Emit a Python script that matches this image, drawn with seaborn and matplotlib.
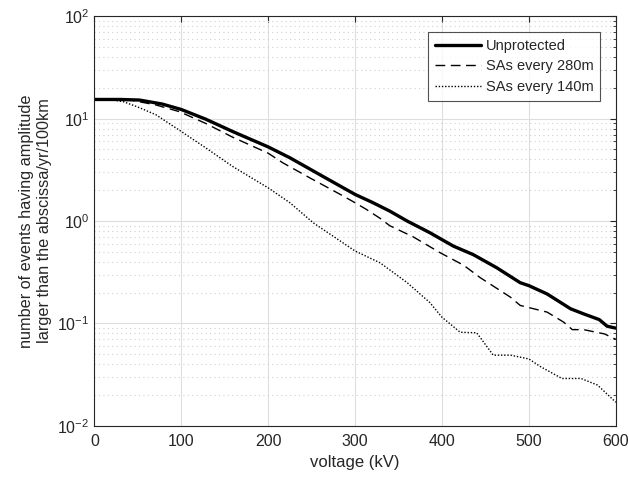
import numpy as np
import pandas as pd
import matplotlib
matplotlib.use('Agg')
import matplotlib.pyplot as plt
import matplotlib.ticker as mticker
import seaborn as sns

# data
x_unprot = [0, 30, 52, 78, 100, 128, 159, 200, 225, 263, 300, 320, 340, 360, 386,
            413, 436, 463, 490, 500, 521, 548, 563, 581, 590, 600]
y_unprot = [15.4, 15.4, 15.2, 13.9, 12.3, 9.9, 7.5, 5.3, 4.15, 2.73, 1.82, 1.52, 1.25,
            1.0, 0.77, 0.57, 0.47, 0.35, 0.25, 0.234, 0.194, 0.139, 0.124, 0.109, 0.094, 0.09]

x_280 = [0, 40, 71, 98, 128, 159, 200, 217, 248, 283, 300, 313, 329, 340, 367, 398,
         425, 444, 479, 490, 521, 540, 550, 563, 587, 600]
y_280 = [15.4, 15.3, 13.6, 11.7, 9.0, 6.6, 4.6, 3.7, 2.64, 1.82, 1.51, 1.3, 1.06, 0.9,
         0.7, 0.49, 0.37, 0.28, 0.18, 0.15, 0.129, 0.103, 0.087, 0.087, 0.079, 0.07]

x_140 = [0, 20, 34, 52, 71, 100, 128, 159, 200, 225, 252, 300, 329, 360, 386, 400,
         421, 440, 459, 479, 500, 513, 538, 560, 579, 600]
y_140 = [15.4, 15.3, 14.6, 12.8, 10.9, 7.5, 5.2, 3.42, 2.11, 1.51, 0.96, 0.51, 0.39,
         0.25, 0.16, 0.115, 0.082, 0.081, 0.049, 0.049, 0.045, 0.038, 0.029, 0.029,
         0.025, 0.017]

labels = ['Unprotected', 'SAs every 280m', 'SAs every 140m']

sns.set_style('white')
plt.rcParams['font.family'] = ['Liberation Sans', 'DejaVu Sans']
plt.rcParams['mathtext.fontset'] = 'custom'
plt.rcParams['mathtext.rm'] = 'Liberation Sans'

fig = plt.figure(figsize=(6.29, 4.79), dpi=100)
ax = fig.add_axes([0.150, 0.111, 0.829, 0.855])

sns.lineplot(x=x_unprot, y=y_unprot, ax=ax, color='black', lw=2.4,
             linestyle='-', label=labels[0])
sns.lineplot(x=x_280, y=y_280, ax=ax, color='black', lw=1.0,
             linestyle=(0, (7, 4)), label=labels[1])
sns.lineplot(x=x_140, y=y_140, ax=ax, color='black', lw=1.0,
             linestyle=(0, (1, 1.3)), label=labels[2])

ax.set_yscale('log')
ax.set_xlim(0, 600)
ax.set_ylim(1e-2, 1e2)
ax.set_xticks(np.arange(0, 601, 100))
ax.yaxis.set_major_locator(mticker.LogLocator(base=10, numticks=10))
ax.yaxis.set_minor_locator(mticker.LogLocator(base=10, subs=np.arange(2, 10), numticks=10))
ax.yaxis.set_minor_formatter(mticker.NullFormatter())

ax.grid(True, which='major', color='#dedede', lw=0.8, ls='-')
ax.grid(True, which='minor', axis='y', color='#cfcfcf', lw=0.8, ls=(0, (1, 3)))
ax.set_axisbelow(True)

for s in ax.spines.values():
    s.set_color('#262626')
    s.set_linewidth(0.8)
ax.tick_params(which='both', direction='in', top=True, right=True,
               colors='#262626', labelsize=11.5)
ax.tick_params(which='major', length=4)
ax.tick_params(which='minor', length=2)
ax.tick_params(axis='x', pad=6)

ax.set_xlabel('voltage (kV)', fontsize=12, color='#262626')
ax.set_ylabel('number of events having amplitude\nlarger than the abscissa/yr/100km',
              fontsize=11.7, color='#262626', labelpad=4)

leg = ax.legend(loc='upper right', bbox_to_anchor=(0.970, 0.961), borderaxespad=0,
                fontsize=10.5, frameon=True, fancybox=False, handlelength=3.2,
                borderpad=0.45, labelspacing=0.45, handletextpad=0.3)
leg.get_frame().set_edgecolor('#262626')
leg.get_frame().set_linewidth(0.8)

plt.savefig('out.png', dpi=100)
